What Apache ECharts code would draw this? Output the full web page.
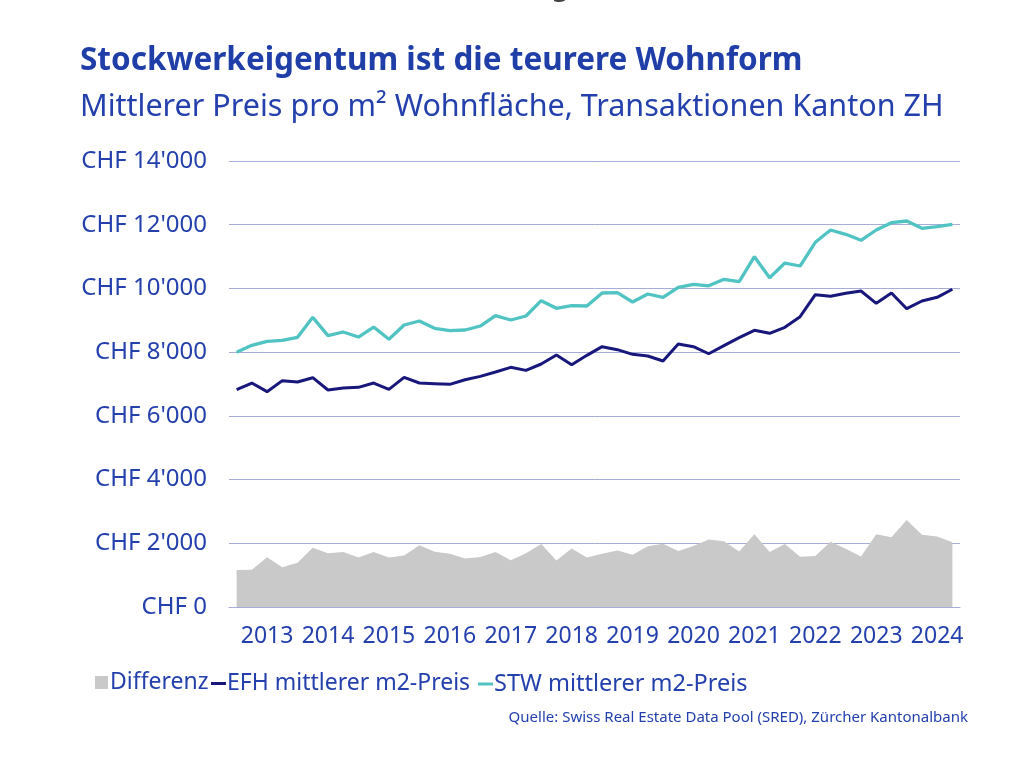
<!DOCTYPE html>
<html>
<head>
<meta charset="utf-8">
<script src="https://cdn.jsdelivr.net/npm/echarts@6/dist/echarts.min.js"></script>
<style>
  html, body { margin: 0; padding: 0; background: #ffffff; }
  #chart { width: 1024px; height: 762px; }
</style>
</head>
<body>
<div id="chart"></div>
<script>
const years = ['2013','2014','2015','2016','2017','2018','2019','2020','2021','2022','2023','2024'];
const quarters = ['Q1','Q2','Q3','Q4'];
const yTicks = [0, 2000, 4000, 6000, 8000, 10000, 12000, 14000];

const efh = [6822,7031,6759,7105,7063,7198,6812,6874,6895,7031,6833,7209,7031,7010,6990,7135,
             7240,7377,7523,7428,7628,7910,7607,7900,8172,8078,7931,7879,7722,8256,8172,7950,
             8203,8454,8685,8591,8779,9113,9804,9752,9846,9919,9533,9857,9364,9605,9721,9973];
const stw = [8000,8215,8340,8371,8466,9093,8517,8632,8475,8789,8403,8852,8977,8747,8674,8695,
             8820,9145,9009,9135,9616,9375,9459,9449,9857,9866,9574,9825,9721,10035,10129,10082,
             10286,10212,10997,10337,10798,10704,11449,11834,11698,11510,11834,12064,12117,11887,11938,12013];
const differenz = [1160,1170,1560,1250,1390,1860,1690,1730,1550,1730,1550,1620,1935,1737,1675,1520,
                   1570,1730,1465,1685,1980,1460,1835,1555,1675,1775,1640,1910,1985,1760,1915,2115,
                   2060,1740,2285,1730,1980,1575,1600,2050,1830,1585,2280,2190,2730,2265,2210,2030];

const categories = [];
years.forEach(y => quarters.forEach(q => categories.push(y + ' ' + q)));

const blue = '#2440ad';
const gridColor = '#a7acd9';
const font = '"Noto Sans", "Open Sans", sans-serif';

const chart = echarts.init(document.getElementById('chart'), null, { renderer: 'canvas' });

function fmtCHF(v) {
  const s = String(v);
  return 'CHF ' + s.replace(/\B(?=(\d{3})+(?!\d))/g, "'");
}

chart.setOption({
  backgroundColor: '#ffffff',
  animation: false,
  textStyle: { fontFamily: font },
  title: {
    text: 'Stockwerkeigentum ist die teurere Wohnform',
    subtext: 'Mittlerer Preis pro m² Wohnfläche, Transaktionen Kanton ZH',
    left: 75, top: 40,
    itemGap: 15,
    textStyle: { fontFamily: font, fontSize: 31.5, fontWeight: 'bold', color: '#1f3ea8' },
    subtextStyle: { fontFamily: font, fontSize: 30.5, color: '#2440ad' }
  },
  graphic: [
    {
      type: 'text', right: 56, top: 710,
      style: { text: 'Quelle: Swiss Real Estate Data Pool (SRED), Zürcher Kantonalbank',
               font: '15px "Noto Sans", sans-serif', fill: blue }
    },
    {
      type: 'text', left: 552, top: -24,
      style: { text: 'g', font: 'bold 26px "Noto Sans", sans-serif', fill: '#444444' }
    }
  ],
  legend: [
    {
      data: [{ name: 'Differenz', icon: 'rect' }],
      left: 90, top: 666, itemWidth: 13, itemHeight: 13, itemGap: 0,
      textStyle: { fontFamily: font, fontSize: 23, color: blue, padding: [0, 0, 0, -3] }
    },
    {
      data: [{ name: 'EFH mittlerer m2-Preis', icon: 'rect' }],
      left: 206, top: 667, itemWidth: 15, itemHeight: 3, itemGap: 0,
      textStyle: { fontFamily: font, fontSize: 23, color: blue, padding: [0, 0, 0, -4] }
    },
    {
      data: [{ name: 'STW mittlerer m2-Preis', icon: 'rect' }],
      left: 473, top: 667, itemWidth: 15, itemHeight: 3, itemGap: 0,
      textStyle: { fontFamily: font, fontSize: 23.5, color: blue, padding: [0, 0, 0, -4] }
    }
  ],
  grid: { left: 229, right: 64, top: 161, bottom: 155, containLabel: false },
  xAxis: {
    type: 'category',
    data: categories,
    boundaryGap: true,
    axisLine: { show: true, lineStyle: { color: gridColor, width: 1 } },
    axisTick: { show: false },
    axisLabel: {
      interval: (idx) => idx % 4 === 2,
      formatter: (v) => v.slice(0, 4),
      fontFamily: font, fontSize: 23, color: blue, margin: 18
    },
    splitLine: { show: false }
  },
  yAxis: {
    type: 'value',
    min: yTicks[0], max: yTicks[yTicks.length - 1], interval: 2000,
    axisLine: { show: false },
    axisTick: { show: false },
    axisLabel: {
      formatter: (v) => fmtCHF(v),
      fontFamily: font, fontSize: 24, color: blue, margin: 22
    },
    splitLine: { show: true, lineStyle: { color: gridColor, width: 1 } }
  },
  series: [
    {
      name: 'Differenz', type: 'line', data: differenz,
      symbol: 'none', lineStyle: { width: 0 },
      itemStyle: { color: '#c9c9c9' },
      areaStyle: { color: '#c9c9c9', opacity: 1 },
      z: 1
    },
    {
      name: 'EFH mittlerer m2-Preis', type: 'line', data: efh,
      symbol: 'none', lineStyle: { width: 3, color: '#17177c' },
      itemStyle: { color: '#17177c' }, z: 3
    },
    {
      name: 'STW mittlerer m2-Preis', type: 'line', data: stw,
      symbol: 'none', lineStyle: { width: 3.3, color: '#50c3c2' },
      itemStyle: { color: '#50c3c2' }, z: 3
    }
  ]
});
</script>
</body>
</html>
